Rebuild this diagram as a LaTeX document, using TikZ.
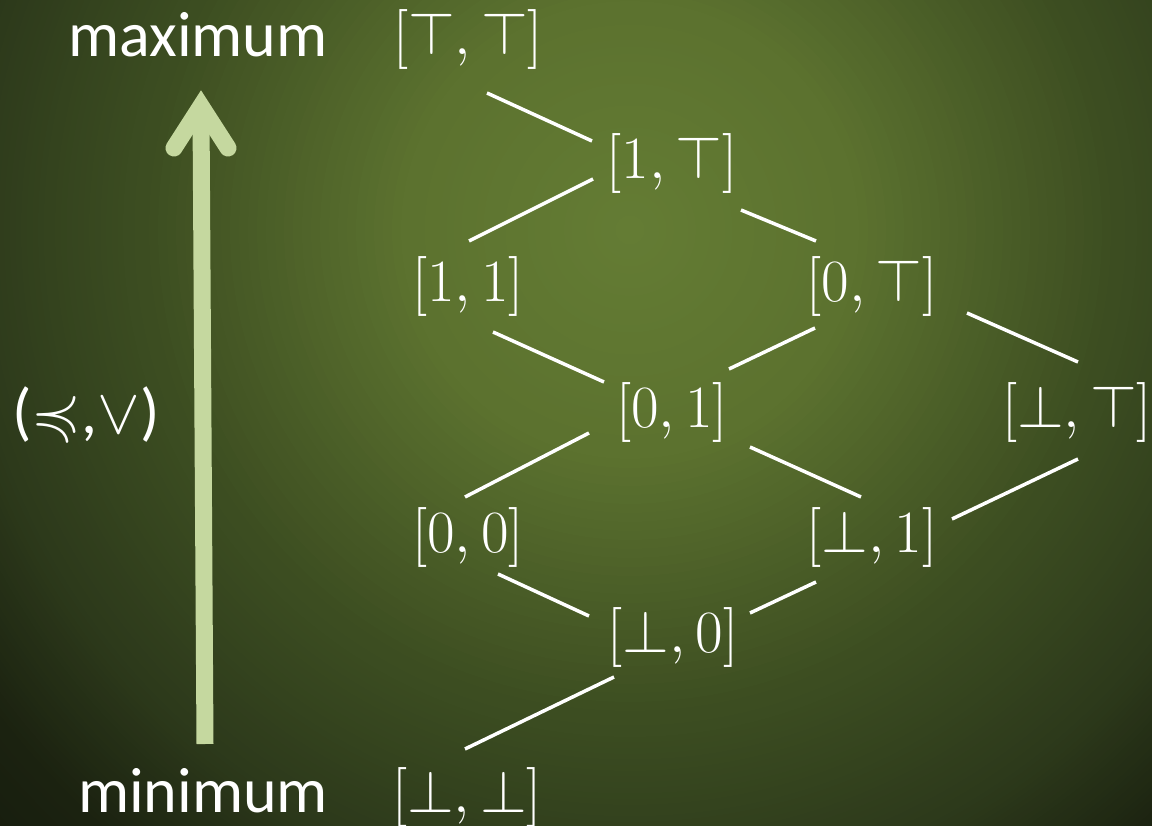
\RequirePackage{fix-cm}
\documentclass[tikz,border=0pt]{standalone}
\usepackage{amssymb}
\usepackage[no-math]{fontspec}
\setmainfont{Carlito}
\definecolor{bgA}{RGB}{100,124,52}
\definecolor{bgB}{RGB}{92,114,47}
\definecolor{bgC}{RGB}{60,77,33}
\definecolor{bgD}{RGB}{45,58,27}
\definecolor{bgE}{RGB}{27,34,16}
\definecolor{bgF}{RGB}{20,25,12}
\definecolor{arrowgreen}{RGB}{197,216,159}
\begin{document}
\begin{tikzpicture}[x=1pt,y=-1pt,
  lab/.style={text=white,font=\fontsize{60}{62}\selectfont,inner sep=0pt,anchor=center},
  word/.style={text=white,font=\fontsize{64}{66}\selectfont,inner sep=0pt,anchor=base},
  edge/.style={white,line width=3.5pt},
  bigarrow/.style={arrowgreen,line width=17pt}]
\useasboundingbox (0,0) rectangle (1152,826);
\begin{scope}
\clip (0,0) rectangle (1152,826);
\coordinate (bgc) at (630,230);
\foreach \ro/\ri/\co/\ci in {950/800/bgF/bgE, 800/660/bgE/bgD, 660/490/bgD/bgC, 490/220/bgC/bgB, 220/0/bgB/bgA} {
  \foreach \k in {0,...,29} {
    \pgfmathsetmacro\r{\ro-(\ro-\ri)*\k/30}
    \pgfmathsetmacro\p{100*\k/29}
    \fill[\ci!\p!\co] (bgc) circle (\r);
  }
}
\end{scope}

% labels
\node[word] (max) at (198,57) {maximum};
\node[word] (min) at (203,812) {minimum};
\node[word] (ord) at (86,434) {($\preccurlyeq$,$\vee$)};

% lattice nodes
\node[lab] (tt) at (468,40) {$[\top, \top]$};
\node[lab] (1t) at (672,164) {$[1, \top]$};
\node[lab] (11) at (468,287) {$[1,1]$};
\node[lab] (0t) at (872,287) {$[0, \top]$};
\node[lab] (01) at (672,413) {$[0,1]$};
\node[lab] (bt) at (1077,413) {$[\bot, \top]$};
\node[lab] (00) at (468,538) {$[0,0]$};
\node[lab] (b1) at (872,538) {$[\bot, 1]$};
\node[lab] (b0) at (673,637) {$[\bot, 0]$};
\node[lab] (bb) at (467,797) {$[\bot, \bot]$};

% connector end points
\coordinate (e1a) at (487,93);   \coordinate (e1b) at (592,141);
\coordinate (e2a) at (593,179);  \coordinate (e2b) at (469,241);
\coordinate (e3a) at (741,210);  \coordinate (e3b) at (816,241);
\coordinate (e4a) at (493,332);  \coordinate (e4b) at (604,382);
\coordinate (e5a) at (815,328);  \coordinate (e5b) at (729,369);
\coordinate (e6a) at (967,313);  \coordinate (e6b) at (1078,362);
\coordinate (e7a) at (589,433);  \coordinate (e7b) at (465,497);
\coordinate (e8a) at (750,447);  \coordinate (e8b) at (861,497);
\coordinate (e9a) at (1078,459); \coordinate (e9b) at (952,519);
\coordinate (e10a) at (498,574); \coordinate (e10b) at (589,616);
\coordinate (e11a) at (816,582); \coordinate (e11b) at (750,613);
\coordinate (e12a) at (614,677); \coordinate (e12b) at (465,749);

\foreach \i in {1,...,12} \draw[edge] (e\i a) -- (e\i b);

% big arrow
\coordinate (sb) at (205,744);
\coordinate (st) at (201,112);
\coordinate (hl) at (174,148);
\coordinate (hv) at (201,106);
\coordinate (hr) at (228,148);
\draw[bigarrow,line cap=butt] (sb) -- (st);
\draw[bigarrow,line cap=round,line join=miter] (hl) -- (hv) -- (hr);
\end{tikzpicture}
\end{document}
